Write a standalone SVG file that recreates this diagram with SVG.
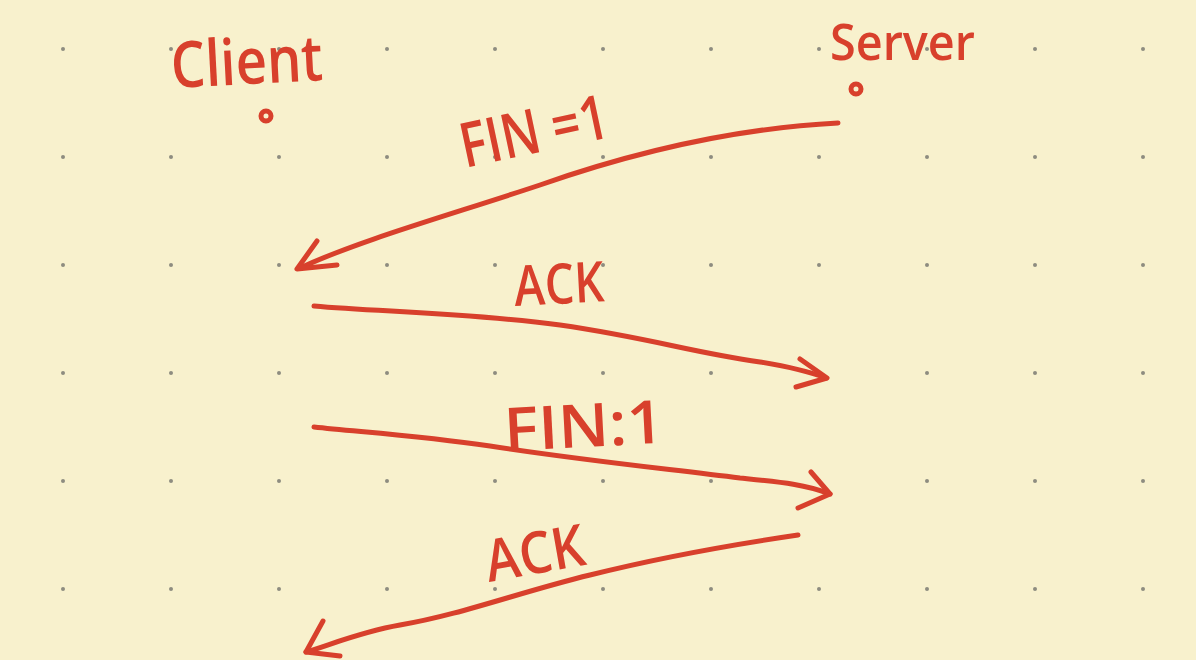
<svg xmlns="http://www.w3.org/2000/svg" width="1196" height="660" viewBox="0 0 1196 660">
<defs>
<pattern id="dots" x="0" y="0" width="108" height="108" patternUnits="userSpaceOnUse" patternTransform="translate(63,49)">
<circle cx="0" cy="0" r="2" fill="#8e8c80"/>
<circle cx="108" cy="0" r="2" fill="#8e8c80"/>
<circle cx="0" cy="108" r="2" fill="#8e8c80"/>
<circle cx="108" cy="108" r="2" fill="#8e8c80"/>
</pattern>
</defs>
<style>
.ink{fill:none;stroke:#d8402c;stroke-width:5;stroke-linecap:round;stroke-linejoin:round}
.lbl{fill:#d8402c;font-family:"Open Sans","Liberation Sans",sans-serif;font-weight:600}
</style>
<rect width="1196" height="660" fill="#f8f1cd"/>
<rect width="1196" height="660" fill="url(#dots)"/>
<g id="client">
<text class="lbl" x="172" y="88" font-size="64" textLength="152" lengthAdjust="spacingAndGlyphs" transform="rotate(-3 172 88)">Client</text>
<ellipse class="ink" cx="266" cy="116" rx="5" ry="5" stroke-width="3.5"/>
</g>
<g id="server">
<text class="lbl" x="830" y="60" font-size="50" textLength="145" lengthAdjust="spacingAndGlyphs">Server</text>
<ellipse class="ink" cx="856" cy="89" rx="5" ry="5" stroke-width="3.5"/>
</g>
<g id="labels">
<text id="lbl-fin1" class="lbl" x="465" y="168" font-size="62" textLength="150" lengthAdjust="spacingAndGlyphs" transform="rotate(-12 465 168)">FIN =1</text>
<text id="lbl-ack1" class="lbl" x="515" y="306" font-size="56" textLength="90" lengthAdjust="spacingAndGlyphs" transform="rotate(-3 515 306)">ACK</text>
<text id="lbl-fin2" class="lbl" x="505" y="451" font-size="60" textLength="160" lengthAdjust="spacingAndGlyphs" transform="rotate(-3 505 451)">FIN:1</text>
<text id="lbl-ack2" class="lbl" x="489" y="582" font-size="58" textLength="100" lengthAdjust="spacingAndGlyphs" transform="rotate(-10 489 582)">ACK</text>
</g>
<g id="connectors">
<path class="ink" d="M838,123 C740,128 640,150 540,185 C450,215 360,240 300,268"/>
<path class="ink" d="M317,241 L297,269 L337,265"/>
<path class="ink" d="M314,306 C380,312 460,312 560,325 C650,338 690,352 760,362 C790,367 810,372 826,378"/>
<path class="ink" d="M800,359 L827,378 L796,387"/>
<path class="ink" d="M314,427 C360,432 420,436 490,446 C580,460 660,468 740,478 C780,482 805,484 830,494"/>
<path class="ink" d="M811,472 L830,494 L798,508"/>
<path class="ink" d="M798,535 C730,545 650,560 590,575 C520,592 460,615 400,625 C360,632 330,645 306,652"/>
<path class="ink" d="M323,621 L306,652 L340,656"/>
</g>
</svg>
